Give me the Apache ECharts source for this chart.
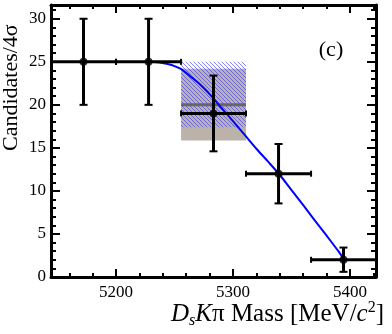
<!DOCTYPE html>
<html>
<head>
<meta charset="utf-8">
<script src="https://cdn.jsdelivr.net/npm/echarts@6/dist/echarts.min.js"></script>
<style>
  html, body { margin: 0; padding: 0; background: #fff; }
  #chart { width: 392px; height: 334px; }
</style>
</head>
<body>
<div id="chart"></div>
<script>
  // bins (MeV), 4 sigma wide
  var binCenter = [5172.2, 5227.8, 5283.3, 5338.9, 5394.4];
  var binLow = [5144.4, 5200, 5255.6, 5311.1, 5366.7];
  var binHigh = [5200, 5255.6, 5311.1, 5366.7, 5422.2];
  var counts = [25, 25, 19, 12, 2];
  var errLow = [20, 20, 14.6, 8.55, 0.6];
  var errHigh = [30, 30, 23.4, 15.45, 3.42];

  // fit curve
  var fitX = [5227.8, 5235, 5240, 5245, 5250, 5255, 5260, 5265, 5270, 5275, 5280, 5285, 5290, 5295, 5300,
              5310, 5320, 5330, 5340, 5350, 5360, 5370, 5380, 5390, 5394.4];
  var fitY = [25.0, 24.95, 24.85, 24.72, 24.5, 24.2, 23.7, 23.15, 22.6, 21.95, 21.25, 20.45, 19.65, 18.9, 18.1,
              16.5, 14.9, 13.4, 11.85, 10.1, 8.35, 6.55, 4.8, 3.0, 2.1];

  // systematic band in bin 3
  var boxBin = [5255.6, 5311.1];
  var greyBand = [15.85, 24.2];
  var hatchBand = [17.4, 25.0];
  var centralLine = 20.0;

  var xMajor = [5200, 5300, 5400];
  var xMinor = [5160, 5180, 5220, 5240, 5260, 5280, 5320, 5340, 5360, 5380, 5420];
  var yMajor = [0, 5, 10, 15, 20, 25, 30];
  var yMinor = [];
  for (var v = 1; v <= 31; v++) { if (v % 5 !== 0) yMinor.push(v); }

  var xMin = 5144.4, xMax = 5422.2, yMin = 0, yMax = 31.6;
  var FONT = '"Liberation Serif", "DejaVu Serif", serif';

  // hatch pattern
  var hatch = document.createElement('canvas');
  hatch.width = 4; hatch.height = 4;
  var hctx = hatch.getContext('2d');
  hctx.fillStyle = 'rgba(50,50,255,0.6)';
  for (var k = 0; k < 4; k++) hctx.fillRect(k, k, 1, 1);

  function plain(val) { return String(Math.round(val)); }

  function xAx(pos, ticks, len, showLine, showLabel) {
    return {
      type: 'value', position: pos, min: xMin, max: xMax,
      axisLine: { show: showLine, onZero: false, lineStyle: { color: '#000', width: 3 } },
      axisTick: { show: true, inside: true, length: len, customValues: ticks, lineStyle: { color: '#000', width: 2 } },
      axisLabel: { show: showLabel, customValues: ticks, formatter: plain, margin: 7, color: '#000', fontSize: 17, fontFamily: FONT },
      splitLine: { show: false }
    };
  }
  function yAx(pos, ticks, len, showLine, showLabel) {
    return {
      type: 'value', position: pos, min: yMin, max: yMax,
      axisLine: { show: showLine, onZero: false, lineStyle: { color: '#000', width: 3 } },
      axisTick: { show: true, inside: true, length: len, customValues: ticks, lineStyle: { color: '#000', width: 2 } },
      axisLabel: { show: showLabel, customValues: ticks, formatter: plain, margin: 5, color: '#000', fontSize: 17, fontFamily: FONT },
      splitLine: { show: false }
    };
  }

  var errData = [];
  for (var i = 0; i < counts.length; i++) {
    errData.push([binCenter[i], counts[i], binLow[i], binHigh[i], errLow[i], errHigh[i]]);
  }
  var pts = [];
  for (var i = 0; i < counts.length; i++) pts.push([binCenter[i], counts[i]]);
  var fitData = [];
  for (var i = 0; i < fitX.length; i++) fitData.push([fitX[i], fitY[i]]);

  var myChart = echarts.init(document.getElementById('chart'));
  var option = {
    animation: false,
    backgroundColor: '#fff',
    grid: { left: 51, right: 16, top: 5, bottom: 57, containLabel: false, outerBoundsMode: 'none' },
    xAxis: [
      xAx('bottom', xMajor, 8, true, true),
      xAx('bottom', xMinor, 4, false, false),
      xAx('top', xMajor, 8, true, false),
      xAx('top', xMinor, 4, false, false)
    ],
    yAxis: [
      yAx('left', yMajor, 9, true, true),
      yAx('left', yMinor, 5, false, false),
      yAx('right', yMajor, 9, true, false),
      yAx('right', yMinor, 5, false, false)
    ],
    graphic: [
      {
        type: 'text', x: 11, y: 151, rotation: Math.PI / 2,
        style: { text: 'Candidates/4σ', font: '22px ' + FONT, fill: '#000',
                 textAlign: 'left', textVerticalAlign: 'middle', align: 'left', verticalAlign: 'middle' }
      },
      {
        type: 'text', x: 384, y: 314,
        style: {
          text: '{i|D}{s|s}{i|K}{n|π Mass [MeV/}{i|c}{p|2}{n|]}',
          textAlign: 'right', textVerticalAlign: 'middle', align: 'right', verticalAlign: 'middle',
          fill: '#000',
          rich: {
            i: { fontStyle: 'italic', fontFamily: FONT, fontSize: 25, fill: '#000', color: '#000' },
            n: { fontFamily: FONT, fontSize: 25, fill: '#000', color: '#000' },
            s: { fontStyle: 'italic', fontFamily: FONT, fontSize: 16, padding: [14, 0, 0, 0], fill: '#000', color: '#000' },
            p: { fontFamily: FONT, fontSize: 16, padding: [0, 0, 13, 0], fill: '#000', color: '#000' }
          }
        }
      },
      {
        type: 'text', x: 331, y: 50,
        style: { text: '(c)', font: '22px ' + FONT, fill: '#000',
                 textAlign: 'center', textVerticalAlign: 'middle', align: 'center', verticalAlign: 'middle' }
      }
    ],
    series: [
      {
        // systematic band
        type: 'custom',
        xAxisIndex: 0, yAxisIndex: 0,
        z: 1,
        data: [[boxBin[0], boxBin[1]]],
        renderItem: function (params, api) {
          var g0 = api.coord([boxBin[0], greyBand[1]]);
          var g1 = api.coord([boxBin[1], greyBand[0]]);
          var h0 = api.coord([boxBin[0], hatchBand[1]]);
          var h1 = api.coord([boxBin[1], hatchBand[0]]);
          var l0 = api.coord([boxBin[0], centralLine]);
          var l1 = api.coord([boxBin[1], centralLine]);
          return {
            type: 'group',
            children: [
              { type: 'rect', shape: { x: g0[0], y: g0[1], width: g1[0] - g0[0], height: g1[1] - g0[1] },
                style: { fill: '#bbb2aa' } },
              { type: 'rect', shape: { x: h0[0], y: h0[1], width: h1[0] - h0[0], height: h1[1] - h0[1] },
                style: { fill: { image: hatch, repeat: 'repeat' } } },
              { type: 'line', shape: { x1: l0[0], y1: l0[1], x2: l1[0], y2: l1[1] },
                style: { stroke: '#666', lineWidth: 3 } }
            ]
          };
        }
      },
      {
        name: 'fit',
        type: 'line',
        xAxisIndex: 0, yAxisIndex: 0,
        z: 3,
        showSymbol: false,
        smooth: 0.3,
        lineStyle: { color: '#0000ff', width: 2 },
        data: fitData
      },
      {
        name: 'err',
        type: 'custom',
        xAxisIndex: 0, yAxisIndex: 0,
        z: 4,
        data: errData,
        renderItem: function (params, api) {
          var c = api.coord([api.value(0), api.value(1)]);
          var xl = api.coord([api.value(2), api.value(1)]);
          var xh = api.coord([api.value(3), api.value(1)]);
          var yl = api.coord([api.value(0), api.value(4)]);
          var yh = api.coord([api.value(0), api.value(5)]);
          var st = { stroke: '#000', lineWidth: 3 };
          var cap = { stroke: '#000', lineWidth: 2 };
          return {
            type: 'group',
            children: [
              { type: 'line', shape: { x1: xl[0], y1: c[1], x2: xh[0], y2: c[1] }, style: st },
              { type: 'line', shape: { x1: c[0], y1: yl[1], x2: c[0], y2: yh[1] }, style: st },
              { type: 'line', shape: { x1: c[0] - 4, y1: yl[1], x2: c[0] + 4, y2: yl[1] }, style: cap },
              { type: 'line', shape: { x1: c[0] - 4, y1: yh[1], x2: c[0] + 4, y2: yh[1] }, style: cap },
              { type: 'line', shape: { x1: xl[0], y1: c[1] - 3, x2: xl[0], y2: c[1] + 3 }, style: cap },
              { type: 'line', shape: { x1: xh[0], y1: c[1] - 3, x2: xh[0], y2: c[1] + 3 }, style: cap }
            ]
          };
        }
      },
      {
        name: 'data',
        type: 'scatter',
        xAxisIndex: 0, yAxisIndex: 0,
        z: 5,
        symbol: 'circle',
        symbolSize: 8,
        itemStyle: { color: '#000' },
        data: pts
      }
    ]
  };
  myChart.setOption(option, true);
</script>
</body>
</html>
